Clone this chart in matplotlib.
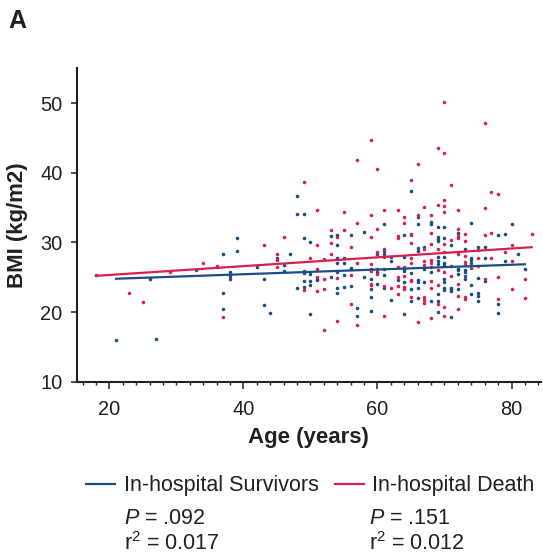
import numpy as np
import matplotlib
matplotlib.use('Agg')
import matplotlib.pyplot as plt
from matplotlib.ticker import MultipleLocator
from matplotlib.lines import Line2D

plt.rcParams['font.family'] = ['Liberation Sans', 'DejaVu Sans']
plt.rcParams['mathtext.fontset'] = 'custom'
plt.rcParams['mathtext.rm'] = 'Liberation Sans'
plt.rcParams['mathtext.it'] = 'Liberation Sans:italic'

# (age, BMI)
survivors = [
    (21, 16.0), (26, 24.7), (27, 16.1), (33, 26.1), (36, 26.4), (37, 28.4), (37, 22.7),
    (37, 20.5), (38, 25.7), (38, 25.2), (38, 24.7), (39, 30.6), (39, 28.7), (48, 36.7),
    (65, 37.4), (48, 34.15), (49, 34.15), (61, 32.6), (58, 31.5), (53, 30.9), (54, 31.1),
    (54, 29.6), (56, 31.1), (49, 30.6), (50, 30.0), (60, 28.4), (61, 28.75), (61, 28.3),
    (62, 27.9), (62, 27.3), (47, 28.4), (45, 27.7), (46, 26.7), (42, 26.4), (54, 27.7),
    (54, 27.1), (55, 27.7), (55, 27.1), (56, 26.25), (59, 26.25), (46, 25.9), (49, 25.9),
    (49, 25.6), (50, 25.5), (51, 24.8), (51, 24.6), (53, 25.1), (54, 25.7), (55, 25.3),
    (56, 26.3), (58, 25.1), (59, 24.8), (59, 23.25), (59, 22.2), (59, 20.1), (60, 25.8),
    (60, 24.1), (61, 26.2), (61, 25.3), (61, 23.5), (62, 21.7), (43, 24.7), (43, 21.0),
    (44, 19.8), (48, 23.4), (49, 24.5), (49, 23.6), (50, 24.5), (50, 23.9), (50, 19.7),
    (54, 23.4), (54, 22.7), (55, 23.6), (56, 23.7), (57, 20.6), (57, 19.5), (66, 33.6),
    (66, 32.6), (68, 33.0), (68, 32.7), (69, 32.2), (70, 32.2), (74, 32.8), (80, 32.7),
    (72, 31.4), (71, 29.6), (78, 31.0), (79, 31.2), (64, 31.1), (65, 31.2), (69, 30.8),
    (69, 30.5), (69, 30.2), (70, 30.6), (66, 29.2), (66, 28.7), (67, 29.3), (73, 29.1),
    (75, 29.3), (76, 29.3), (81, 28.3), (64, 27.9), (69, 27.9), (69, 27.35), (69, 26.9),
    (70, 27.9), (70, 27.0), (70, 26.7), (74, 27.8), (74, 27.45), (74, 27.1), (76, 27.7),
    (79, 27.4), (72, 26.2), (82, 26.2), (67, 26.25), (63, 24.6), (64, 26.2), (64, 25.9),
    (64, 24.25), (64, 19.7), (65, 25.6), (65, 23.3), (65, 21.6), (66, 24.6), (66, 24.25),
    (66, 23.4), (66, 21.95), (67, 24.25), (68, 25.8), (68, 21.6), (69, 22.6), (69, 21.6),
    (69, 20.0), (70, 24.7), (70, 24.25), (70, 23.5), (70, 23.1), (71, 23.5), (71, 23.25),
    (71, 23.0), (71, 19.3), (72, 26.0), (72, 25.4), (72, 23.25), (73, 26.0), (73, 25.7),
    (73, 25.2), (73, 24.8), (74, 23.9), (74, 22.6), (75, 24.9), (75, 22.7), (75, 22.3),
    (75, 21.6), (76, 24.5), (78, 21.1), (78, 19.9),
]
deaths = [
    (18, 25.3), (23, 22.8), (25, 21.5), (29, 25.8), (34, 27.1), (36, 26.6), (37, 19.3),
    (70, 50.1), (76, 47.2), (59, 44.7), (69, 43.6), (70, 42.8), (57, 41.9), (66, 41.3),
    (60, 40.6), (65, 38.9), (49, 38.7), (71, 38.3), (77, 37.2), (78, 37.0), (51, 34.6),
    (55, 34.4), (59, 33.9), (61, 34.6), (57, 32.8), (60, 31.95), (53, 31.85), (53, 29.85),
    (54, 30.75), (55, 31.85), (59, 30.8), (46, 30.8), (43, 29.6), (51, 29.6), (56, 29.3),
    (60, 28.65), (61, 29.1), (61, 27.9), (45, 28.3), (45, 27.45), (45, 26.4), (50, 27.7),
    (52, 27.55), (53, 28.3), (57, 27.1), (59, 26.9), (51, 26.2), (60, 26.25), (51, 25.1),
    (52, 24.7), (54, 24.9), (56, 25.3), (59, 25.9), (59, 24.1), (59, 23.9), (60, 25.5),
    (61, 23.8), (61, 19.4), (62, 23.4), (49, 23.15), (51, 23.0), (52, 23.3), (54, 18.75),
    (56, 21.2), (57, 18.1), (52, 17.4), (70, 36.1), (70, 35.2), (70, 34.4), (69, 35.4),
    (67, 35.1), (72, 34.7), (76, 34.9), (63, 34.6), (64, 33.7), (66, 33.9), (68, 34.0),
    (64, 32.8), (72, 31.95), (72, 30.9), (72, 30.6), (73, 31.2), (73, 30.2), (71, 30.4),
    (76, 31.0), (77, 31.4), (83, 31.2), (63, 30.9), (63, 30.6), (65, 31.0), (65, 29.9),
    (68, 31.3), (68, 29.8), (70, 29.8), (67, 29.0), (69, 29.0), (70, 28.6), (75, 28.9),
    (79, 28.65), (80, 29.6), (65, 27.8), (65, 27.1), (67, 27.3), (68, 27.45), (68, 27.1),
    (72, 28.3), (73, 28.1), (73, 27.2), (75, 27.7), (77, 27.7), (80, 27.3), (63, 26.4),
    (71, 26.6), (74, 26.35), (64, 26.5), (67, 26.7), (68, 26.5), (73, 26.7), (75, 26.6),
    (63, 25.0), (63, 23.8), (63, 22.6), (64, 25.2), (64, 23.6), (64, 23.3), (65, 24.6),
    (65, 24.4), (65, 22.1), (66, 18.6), (67, 22.1), (67, 21.8), (67, 21.3), (68, 24.5),
    (68, 23.5), (68, 19.1), (69, 26.0), (69, 23.9), (69, 21.1), (70, 25.7), (70, 20.7),
    (70, 19.5), (71, 25.2), (72, 24.0), (72, 22.3), (72, 20.5), (73, 22.1), (73, 21.9),
    (76, 24.7), (78, 25.1), (78, 21.9), (80, 23.3), (82, 24.7), (82, 21.95),
]

# regression lines as drawn (intercept, slope)
surv_fit = (24.07, 0.034)
death_fit = (24.06, 0.0633)

labels = ['In-hospital Survivors', 'In-hospital Death']
p_text = ['$P$ = .092', '$P$ = .151']
r2_text = ['r$^2$ = 0.017', 'r$^2$ = 0.012']

blue = '#1b4c86'
red = '#d7204f'
ink = '#231f20'

W, H = 543, 554
fig = plt.figure(figsize=(W / 100, H / 100), dpi=100)
ax = fig.add_axes([76.5 / W, 1 - 381.7 / H, (541 - 76.5) / W, (381.7 - 68.3) / H])

s = np.array(survivors)
d = np.array(deaths)
ax.scatter(s[:, 0], s[:, 1], s=6.5, color=blue, linewidths=0, zorder=2)
ax.scatter(d[:, 0], d[:, 1], s=6.5, color=red, linewidths=0, zorder=2)

for pts, fit, c in [(s, surv_fit, blue), (d, death_fit, red)]:
    xx = np.array([pts[:, 0].min(), pts[:, 0].max()])
    ax.plot(xx, fit[0] + fit[1] * xx, color=c, lw=1.6, zorder=3)

ax.set_xlim(15.1, 84.4)
ax.set_ylim(10, 55)
ax.set_xticks([20, 40, 60, 80])
ax.xaxis.set_minor_locator(MultipleLocator(2))
ax.set_yticks([10, 20, 30, 40, 50])

for side in ['top', 'right']:
    ax.spines[side].set_visible(False)
for side in ['left', 'bottom']:
    ax.spines[side].set_linewidth(1.5)
    ax.spines[side].set_color(ink)

ax.tick_params(axis='both', which='major', direction='out', width=1.1, color=ink,
               labelsize=14.4, labelcolor=ink)
ax.tick_params(axis='x', which='major', length=5, pad=8)
ax.tick_params(axis='x', which='minor', length=2.5, width=1.0, color=ink)
ax.tick_params(axis='y', which='major', length=4, pad=6)

ax.set_xlabel('Age (years)', fontsize=16, fontweight='bold', color=ink, labelpad=6)
ax.set_ylabel('BMI (kg/m2)', fontsize=16, fontweight='bold', color=ink, labelpad=9)

fig.text(8 / W, 1 - 9 / H, 'A', fontsize=18, fontweight='bold', color=ink, ha='left', va='top')

handles = [Line2D([], [], color=blue, lw=1.6), Line2D([], [], color=red, lw=1.6)]
fig.legend(handles, labels, ncol=2, loc='center left', bbox_to_anchor=(86 / W, 1 - 486 / H),
           frameon=False, fontsize=15.5, handlelength=1.35, handletextpad=0.4,
           columnspacing=0.75, borderpad=0, borderaxespad=0, labelcolor=ink)

for x0, pt, rt in zip([124, 369], p_text, r2_text):
    fig.text(x0 / W, 1 - 524 / H, pt, fontsize=15.5, color=ink, va='baseline')
    fig.text(x0 / W, 1 - 550 / H, rt, fontsize=15.5, color=ink, va='baseline')

fig.savefig('out.png', dpi=100)
